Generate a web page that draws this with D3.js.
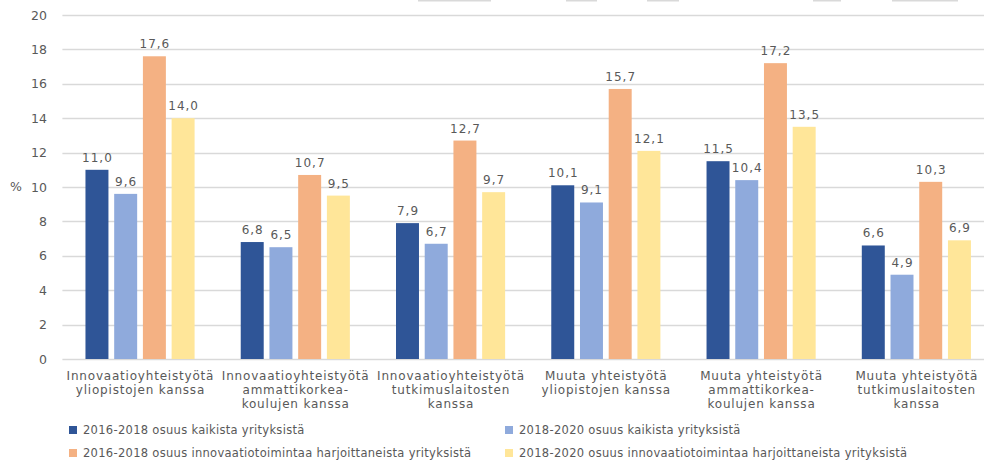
<!DOCTYPE html>
<html>
<head>
<meta charset="utf-8">
<script src="https://cdn.jsdelivr.net/npm/d3@7/dist/d3.min.js"></script>
<style>
  html, body { margin: 0; padding: 0; background: #fff; }
  svg { display: block; }
  text { font-family: "DejaVu Sans", Verdana, sans-serif; fill: #595959; }
</style>
</head>
<body>
<svg id="chart" width="984" height="461"></svg>
<script>
// ---- data ----
const categories = [
  ["Innovaatioyhteistyötä", "yliopistojen kanssa"],
  ["Innovaatioyhteistyötä", "ammattikorkea-", "koulujen kanssa"],
  ["Innovaatioyhteistyötä", "tutkimuslaitosten", "kanssa"],
  ["Muuta yhteistyötä", "yliopistojen kanssa"],
  ["Muuta yhteistyötä", "ammattikorkea-", "koulujen kanssa"],
  ["Muuta yhteistyötä", "tutkimuslaitosten", "kanssa"]
];
const seriesNames = [
  "2016-2018 osuus kaikista yrityksistä",
  "2018-2020 osuus kaikista yrityksistä",
  "2016-2018 osuus innovaatiotoimintaa harjoittaneista yrityksistä",
  "2018-2020 osuus innovaatiotoimintaa harjoittaneista yrityksistä"
];
const s2016all = [11.0, 6.8, 7.9, 10.1, 11.5, 6.6];
const s2018all = [9.6, 6.5, 6.7, 9.1, 10.4, 4.9];
const s2016inno = [17.6, 10.7, 12.7, 15.7, 17.2, 10.3];
const s2018inno = [14.0, 9.5, 9.7, 12.1, 13.5, 6.9];
const yTicks = [0, 2, 4, 6, 8, 10, 12, 14, 16, 18, 20];
const colors = ["#2F5597", "#8FAADC", "#F4B183", "#FFE699"];

const series = [s2016all, s2018all, s2016inno, s2018inno];

// ---- layout ----
const svg = d3.select("#chart");
const plotLeft = 62.4, plotRight = 994, plotTop = 15, plotBottom = 359;

const y = d3.scaleLinear().domain([0, 20]).range([plotBottom, plotTop]);
const x0 = d3.scaleBand().domain(d3.range(categories.length)).range([plotLeft, plotRight]).paddingInner(0).paddingOuter(0);
const x1 = d3.scaleBand().domain(d3.range(series.length))
  .range([x0.bandwidth() / 2 - 56, x0.bandwidth() / 2 + 56]).paddingInner(0.2).paddingOuter(0.05);

// faint artifact strokes at the very top of the image
const topMarks = [[418, 491], [566, 597], [647, 679], [813, 841], [892, 958]];
svg.selectAll("rect.artifact").data(topMarks).join("rect")
  .attr("class", "artifact")
  .attr("x", d => d[0]).attr("y", 0)
  .attr("width", d => d[1] - d[0]).attr("height", 1.5)
  .attr("fill", "#d9d9d9");

// gridlines
svg.append("g").selectAll("line").data(yTicks).join("line")
  .attr("x1", plotLeft).attr("x2", 984)
  .attr("y1", d => Math.round(y(d)) + 0.5).attr("y2", d => Math.round(y(d)) + 0.5)
  .attr("stroke", "#d9d9d9").attr("stroke-width", 1.3);

// y axis labels
const yAxis = d3.axisLeft(y).tickValues(yTicks).tickSize(0).tickPadding(0);
const yG = svg.append("g").attr("transform", `translate(${47},0)`).call(yAxis);
yG.select(".domain").remove();
yG.selectAll("text").attr("font-size", 12.5).style("fill", "#595959")
  .style("font-family", '"DejaVu Sans", Verdana, sans-serif');

svg.append("text").attr("x", 10).attr("y", y(10)).attr("dy", "0.35em")
  .attr("font-size", 12.5).text("%");

// bars
const fmt = v => d3.format(".1f")(v).replace(".", ",");
const groups = svg.append("g").selectAll("g").data(categories).join("g")
  .attr("transform", (d, i) => `translate(${x0(i)},0)`);

series.forEach((s, si) => {
  groups.append("rect")
    .attr("x", x1(si))
    .attr("width", x1.bandwidth())
    .attr("y", (d, i) => y(s[i]))
    .attr("height", (d, i) => y(0) - y(s[i]))
    .attr("fill", colors[si]);
  groups.append("text")
    .attr("x", x1(si) + x1.bandwidth() / 2 + 0.5)
    .attr("y", (d, i) => y(s[i]) - 8)
    .attr("text-anchor", "middle")
    .attr("font-size", 12)
    .attr("letter-spacing", 1)
    .text((d, i) => fmt(s[i]));
});

// category labels
groups.each(function(lines) {
  const g = d3.select(this);
  lines.forEach((ln, li) => {
    g.append("text")
      .attr("x", x0.bandwidth() / 2 + 0.4)
      .attr("y", 380 + li * 14)
      .attr("text-anchor", "middle")
      .attr("font-size", 12)
      .attr("letter-spacing", 0.8)
      .text(ln);
  });
});

// legend
const legendPos = [[69, 430], [505, 430], [69, 453], [505, 453]];
const leg = svg.append("g").selectAll("g").data(seriesNames).join("g")
  .attr("transform", (d, i) => `translate(${legendPos[i][0]},${legendPos[i][1]})`);
leg.append("rect").attr("x", 0).attr("y", -4).attr("width", 8).attr("height", 8)
  .attr("fill", (d, i) => colors[i]);
leg.append("text").attr("x", 14).attr("y", 0).attr("dy", "0.35em")
  .attr("font-size", 11.5).attr("letter-spacing", 0.3).text(d => d);
</script>
</body>
</html>
